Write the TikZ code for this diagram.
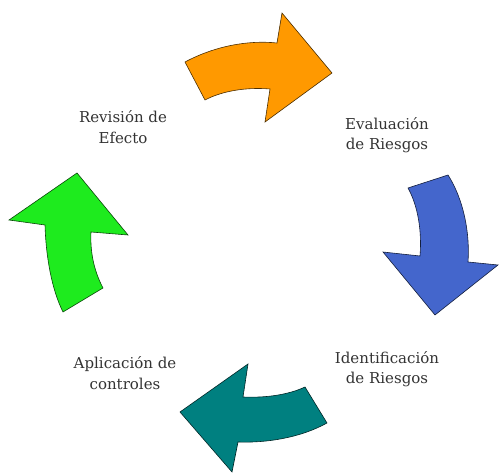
\documentclass[tikz,border=0pt]{standalone}
\usepackage[dvipsnames]{xcolor}
\usepackage{fontspec}
\setmainfont{DejaVu Serif}
\usepackage{tikz}

\definecolor{cycOrange}{RGB}{255,153,0}
\definecolor{cycBlue}{RGB}{68,102,204}
\definecolor{cycTeal}{RGB}{0,128,128}
\definecolor{cycGreen}{RGB}{30,235,30}

\begin{document}
\begin{tikzpicture}[x=1pt, y=-1pt]
               \tikzstyle{myArrow}=[line width=0.6pt, line join=miter]
               \tikzstyle{myLabel}=[align=center, inner sep=0pt, text=black!80, font=\fontsize{15}{20.5}\selectfont]

               \useasboundingbox (0,0) rectangle (499,473);

               % orange: top right
               \draw[myArrow, fill=cycOrange, draw=black!70!cycOrange]
                  (185,62) .. controls (215,46) and (248,40) .. (277,43)
                  -- (282,13) -- (332,73) -- (265,122) -- (270,89)
                  .. controls (246,87) and (222,91) .. (205,100) -- cycle;

               % blue: right
               \draw[myArrow, fill=cycBlue, draw=black!70!cycBlue]
                  (448,175) .. controls (464,200) and (470,234) .. (468,262)
                  -- (498,265) -- (435,315) -- (383,252) -- (420,256)
                  .. controls (422,231) and (418,206) .. (408,188) -- cycle;

               % teal: bottom
               \draw[myArrow, fill=cycTeal, draw=black!70!cycTeal]
                  (327,423) .. controls (300,438) and (266,443) .. (238,442)
                  -- (232,472) -- (180,412) -- (248,364) -- (243,397)
                  .. controls (265,398) and (288,395) .. (305,387) -- cycle;

               % green: left
               \draw[myArrow, fill=cycGreen, draw=black!70!cycGreen]
                  (63,312) .. controls (52,290) and (46,258) .. (45,225)
                  -- (9,220) -- (77,173) -- (128,235) -- (91,232)
                  .. controls (90,252) and (94,271) .. (103,288) -- cycle;

               \node[myLabel] (revision) at (123,127) {Revisión de\\Efecto};
               \node[myLabel] (evaluacion) at (387,135) {Evaluación\\de Riesgos};
               \node[myLabel] (identificacion) at (387,369) {Identificación\\de Riesgos};
               \node[myLabel] (aplicacion) at (125,373) {Aplicación de\\controles};
\end{tikzpicture}
\end{document}
